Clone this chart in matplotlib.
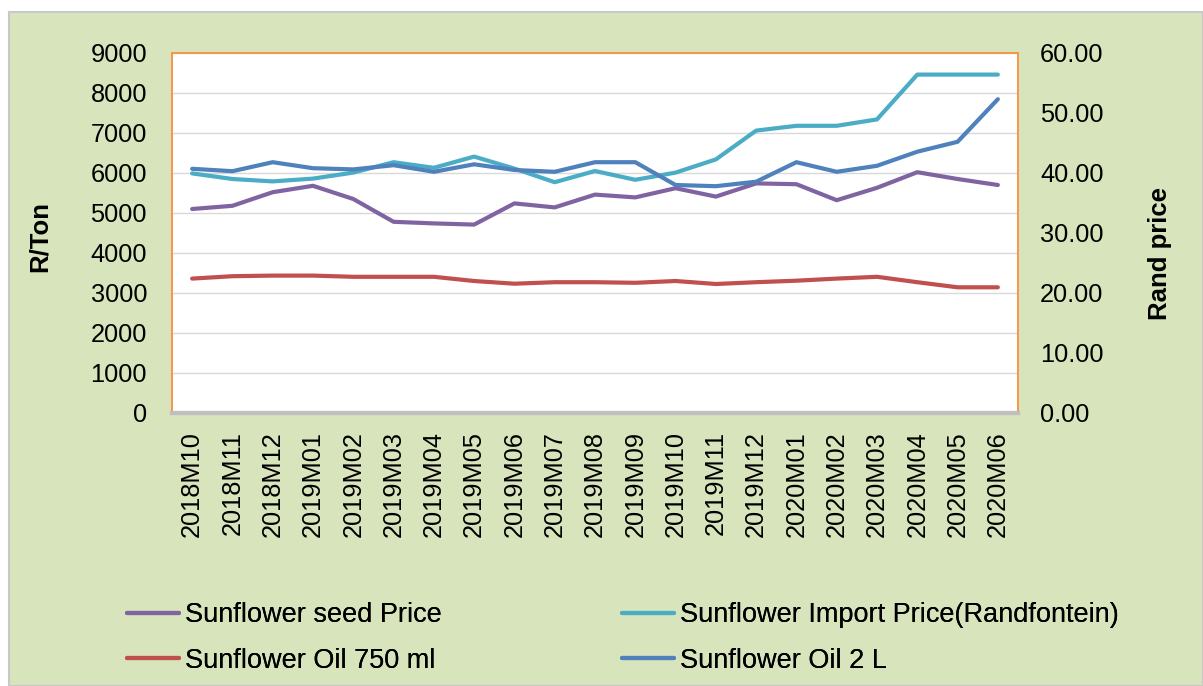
import matplotlib
matplotlib.use("Agg")
import matplotlib.pyplot as plt
from matplotlib.patches import Rectangle

plt.rcParams['font.family'] = ['Liberation Sans', 'DejaVu Sans']

# monthly categories
months = ['2018M10', '2018M11', '2018M12', '2019M01', '2019M02', '2019M03', '2019M04',
          '2019M05', '2019M06', '2019M07', '2019M08', '2019M09', '2019M10', '2019M11',
          '2019M12', '2020M01', '2020M02', '2020M03', '2020M04', '2020M05', '2020M06']

# left axis, R/Ton
seed_price = [5100, 5180, 5520, 5680, 5350, 4780, 4740, 4710, 5240, 5140, 5460, 5390,
              5620, 5410, 5740, 5720, 5320, 5630, 6020, 5850, 5700]
import_price = [5990, 5850, 5790, 5860, 6010, 6270, 6130, 6410, 6110, 5770, 6050, 5830,
                6010, 6340, 7060, 7180, 7180, 7340, 8460, 8460, 8460]

# right axis, Rand price
oil_750 = [22.4, 22.8, 22.9, 22.9, 22.7, 22.7, 22.7, 22.0, 21.55, 21.8, 21.8, 21.7,
           22.0, 21.5, 21.8, 22.05, 22.4, 22.7, 21.8, 20.95, 20.95]
oil_2l = [40.7, 40.3, 41.8, 40.8, 40.6, 41.3, 40.2, 41.45, 40.5, 40.2, 41.8, 41.8,
          38.0, 37.8, 38.55, 41.8, 40.2, 41.2, 43.55, 45.2, 52.3]

W, H = 1203, 686
fig = plt.figure(figsize=(W / 100, H / 100), dpi=100, facecolor='white')

# green chart area with grey border
bg = Rectangle((9 / W, 0), 1 - 9 / W, 1 - 12 / H, transform=fig.transFigure,
               facecolor='#d8e4bc', edgecolor='#c8c8c8', linewidth=1.5, zorder=-10)
fig.patches.append(bg)

ax = fig.add_axes([172 / W, (H - 413) / H, (1018 - 172) / W, (413 - 53) / H])
ax.set_facecolor('white')
x = list(range(len(months)))

l1, = ax.plot(x, seed_price, color='#8064a2', lw=3, label='Sunflower seed Price', solid_capstyle='round')
l2, = ax.plot(x, import_price, color='#4bacc6', lw=3, label='Sunflower Import Price(Randfontein)', solid_capstyle='round')
ax.set_ylim(0, 9000)
ax.set_yticks(range(0, 9001, 1000))
ax.set_xlim(-0.5, len(months) - 0.5)
ax.set_xticks(x)
ax.set_xticklabels(months, rotation=90, fontsize=18.3)
ax.grid(axis='y', color='#d9d9d9', lw=1)
ax.set_axisbelow(True)
ax.tick_params(axis='y', length=0, labelsize=18.3, pad=18)
ax.tick_params(axis='x', length=0, pad=13)

ax2 = ax.twinx()
l3, = ax2.plot(x, oil_750, color='#c0504d', lw=3, label='Sunflower Oil 750 ml', solid_capstyle='round')
l4, = ax2.plot(x, oil_2l, color='#4f81bd', lw=3, label='Sunflower Oil 2 L', solid_capstyle='round')
ax2.set_ylim(0, 60)
ax2.set_yticks(range(0, 61, 10))
ax2.set_yticklabels(['%.2f' % v for v in range(0, 61, 10)])
ax2.tick_params(axis='y', length=0, labelsize=18.3, pad=16)

for a in (ax, ax2):
    for s in ('left', 'right', 'top'):
        a.spines[s].set_color('#f79646')
        a.spines[s].set_linewidth(1.2)
    a.spines['bottom'].set_color('#bfbfbf')
    a.spines['bottom'].set_linewidth(3)

fig.text(40 / W, 1 - 237 / H, 'R/Ton', rotation=90, fontsize=18.5, fontweight='bold',
         ha='center', va='center')
fig.text(1160 / W, 1 - 253 / H, 'Rand price', rotation=90, fontsize=18.5, fontweight='bold',
         ha='center', va='center')

# legend: two columns placed separately
col_x = [113, 608]
cols = [[l1, l3], [l2, l4]]
for cx, handles in zip(col_x, cols):
    lg = fig.legend(handles, [h.get_label() for h in handles], frameon=False, fontsize=19.5,
                    loc='center left', bbox_to_anchor=(cx / W, 1 - 638 / H), borderpad=0,
                    handlelength=1.95, handletextpad=0.2, labelspacing=0.72)
    fig.add_artist(lg)

fig.savefig('out.png', dpi=100)
